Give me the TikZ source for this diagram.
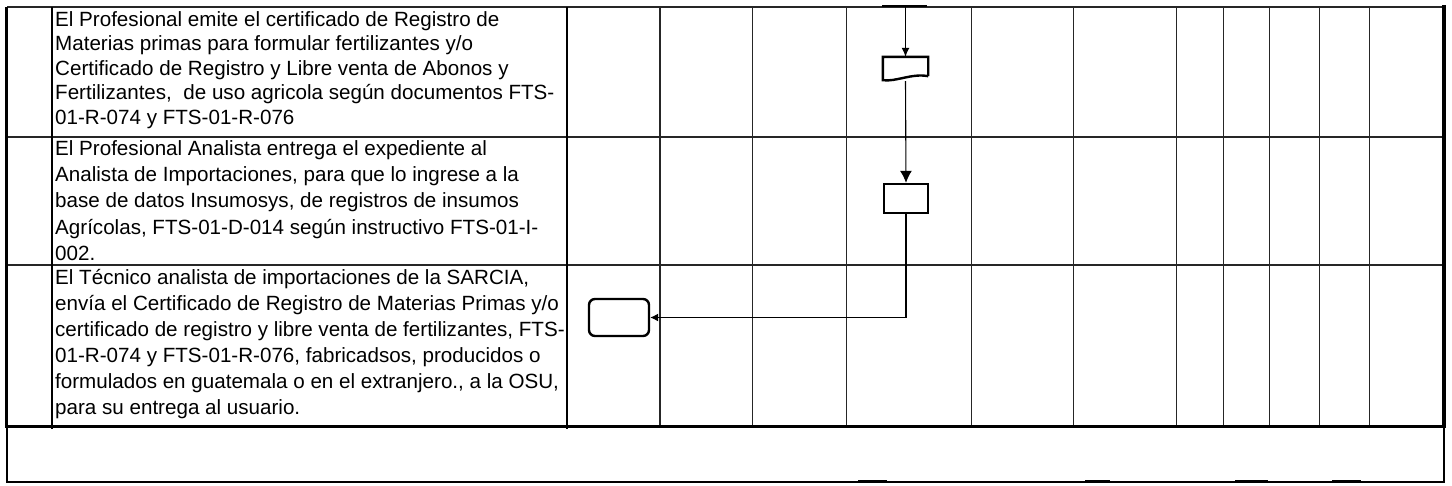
\documentclass[tikz,border=0pt]{standalone}
\usepackage{fontspec}
\setmainfont{Liberation Sans}
\usetikzlibrary{arrows.meta}
\tikzset{
  grid/.style={line width=1.3pt, draw=black!85},
  heavy/.style={line width=2.6pt, draw=black},
  shapebox/.style={draw=black, line width=2.4pt, fill=white, inner sep=0pt},
  conn/.style={line width=1.1pt, draw=black},
  rowtext/.style={anchor=base west, inner sep=0pt, font=\fontsize{20.6}{#1}\selectfont},
  rowtext/.default=26,
  thickmark/.style={line width=2.6pt, draw=black},
}
\newcommand{\rowpar}[1]{\parbox[t]{560pt}{\raggedright #1}}
\begin{document}
\begin{tikzpicture}[x=1pt, y=-1pt]
\useasboundingbox (0,0) rectangle (1452,485);
% vertical grid lines
\foreach \xx in {660,752.7,846.5,971.5,1073.5,1176.7,1223.3,1269.3,1319.3,1369.3}
  \draw[grid] (\xx,7) -- (\xx,427);
\draw[grid] (7,7) -- (1444,7);
\draw[grid] (7,137) -- (1444,137);
\draw[grid] (7,265) -- (1444,265);
\draw[line width=2.2pt] (52,7) -- (52,429);
\draw[line width=2.4pt] (567,7) -- (567,429);
\draw[line width=3.4pt] (6.5,7) -- (6.5,428);
\draw[line width=4pt] (1444,5) -- (1444,428);
\draw[line width=2.2pt] (7,426) -- (7,482);
\draw[line width=2.2pt] (1444,426) -- (1444,482);
\draw[heavy] (5,426.5) -- (1446,426.5);
\draw[heavy] (6,482) -- (1445,482);
% texts
\node[rowtext=24.6] (t1) at (55,26) {\rowpar{El Profesional emite el certificado de Registro de\\
Materias primas para formular fertilizantes y/o\\
Certificado de Registro y Libre venta de Abonos y\\
Fertilizantes,\ \ de uso agricola según documentos FTS-\\
01-R-074 y FTS-01-R-076}};
\node[rowtext=26.4] (t2) at (55,155) {\rowpar{El Profesional Analista entrega el expediente al\\
Analista de Importaciones, para que lo ingrese a la\\
base de datos Insumosys, de registros de insumos\\
Agrícolas, FTS-01-D-014 según instructivo FTS-01-I-\\
002.}};
\node[rowtext=26] (t3) at (55,284) {\rowpar{El Técnico analista de importaciones de la SARCIA,\\
envía el Certificado de Registro de Materias Primas y/o\\
certificado de registro y libre venta de fertilizantes, FTS-\\
01-R-074 y FTS-01-R-076, fabricadsos, producidos o\\
formulados en guatemala o en el extranjero., a la OSU,\\
para su entrega al usuario.}};
% flowchart
\coordinate (topc) at (905.5,7);
\draw[thickmark] (882,6) -- (927,6);
\node[inner sep=0pt, minimum width=45pt, minimum height=23pt] (doc) at (905.5,68.5) {};
\draw[line width=2.4pt, line join=miter]
  (doc.south east) ++(0,-4) -- (doc.north east) -- (doc.north west) -- (doc.south west)
  .. controls (896,82) and (912,73) .. ([yshift=4pt]doc.south east);
\node[shapebox, minimum width=44pt, minimum height=29pt] (proc) at (906,198.5) {};
\node[shapebox, rounded corners=6pt, minimum width=60pt, minimum height=37pt] (term) at (619,317.5) {};
\draw[conn, -{Latex[length=9pt, width=8pt]}] (topc) -- (doc.north);
\draw[conn, -{Latex[length=12pt, width=12pt]}] ([yshift=-1pt]doc.south) -- (proc.north);
\draw[conn, -{Latex[length=8pt, width=8pt]}] (proc.south) |- (term.east);
% bottom marks
\draw[thickmark] (858,481) -- (887,481);
\draw[thickmark] (1085,481) -- (1110,481);
\draw[thickmark] (1235,481) -- (1268,481);
\draw[thickmark] (1332,481) -- (1361,481);
\end{tikzpicture}
\end{document}
